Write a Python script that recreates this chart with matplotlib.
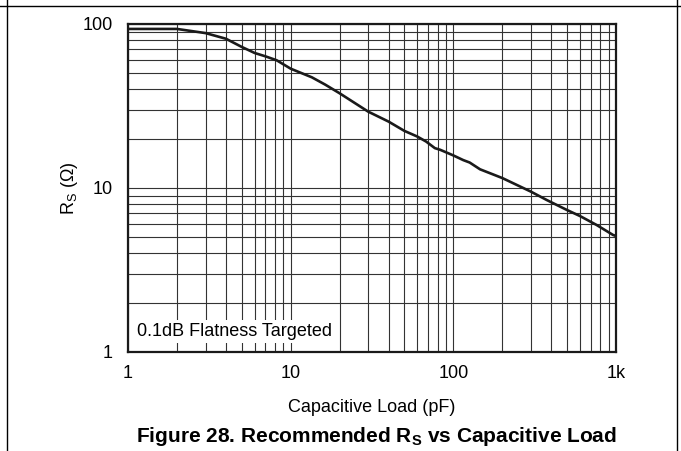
import matplotlib
matplotlib.use("Agg")
import matplotlib.pyplot as plt
from matplotlib.lines import Line2D
from matplotlib.ticker import FixedLocator, FixedFormatter, NullFormatter, LogLocator

plt.rcParams['font.family'] = ['Liberation Sans', 'DejaVu Sans']
plt.rcParams['mathtext.fontset'] = 'custom'
plt.rcParams['mathtext.rm'] = 'Liberation Sans'
plt.rcParams['mathtext.bf'] = 'Liberation Sans:bold'
plt.rcParams['mathtext.it'] = 'Liberation Sans:italic'

cap_pf = [1, 2, 3, 4, 5, 6, 7, 8.2, 10, 13.5, 16.3, 20, 30, 40, 50, 60, 68, 77, 83,
          100, 115, 126, 146, 200, 300, 375, 500, 600, 760, 960, 1000]
rs_ohm = [93.3, 93.3, 88, 81.3, 72.5, 66.6, 63.5, 60.1, 53.4, 47.3, 42.7, 37.8, 29.2,
          25.4, 22.3, 20.6, 19.2, 17.5, 17.1, 15.8, 14.8, 14.3, 13.0, 11.5, 9.5, 8.45,
          7.34, 6.75, 5.95, 5.17, 5.1]
x_ticks = [1, 10, 100, 1000]
x_tick_labels = ["1", "10", "100", "1k"]
y_ticks = [1, 10, 100]
y_tick_labels = ["1", "10", "100"]

fig = plt.figure(figsize=(6.81, 4.51), dpi=100)
ax = fig.add_axes([128/681, 1-352/451, 488/681, 328/451])
ax.set_xscale('log')
ax.set_yscale('log')
ax.set_xlim(1, 1000)
ax.set_ylim(1, 100)

ax.plot(cap_pf, rs_ohm, color='#1a1a1a', lw=1.9, zorder=4, solid_capstyle='round')

ax.xaxis.set_major_locator(FixedLocator(x_ticks))
ax.xaxis.set_major_formatter(FixedFormatter(x_tick_labels))
ax.yaxis.set_major_locator(FixedLocator(y_ticks))
ax.yaxis.set_major_formatter(FixedFormatter(y_tick_labels))
ax.xaxis.set_minor_locator(LogLocator(base=10, subs=range(2, 10)))
ax.yaxis.set_minor_locator(LogLocator(base=10, subs=range(2, 10)))
ax.xaxis.set_minor_formatter(NullFormatter())
ax.yaxis.set_minor_formatter(NullFormatter())

ax.grid(True, which='both', color='#333333', lw=0.8)
ax.set_axisbelow(True)
ax.tick_params(which='both', length=0)
ax.tick_params(axis='x', pad=9.5, labelsize=13)
ax.tick_params(axis='y', pad=11, labelsize=13)
for s in ax.spines.values():
    s.set_linewidth(1.6)
    s.set_color('#1a1a1a')
    s.set_zorder(5)

ax.text(0.018, 0.063, "0.1dB Flatness Targeted", transform=ax.transAxes,
        fontsize=13, ha='left', va='center', zorder=3,
        bbox=dict(facecolor='white', edgecolor='none', pad=2.0))

fig.text(69/681, 1-188/451, "R$_\\mathrm{S}$ (Ω)", rotation=90, ha='center', va='center',
         fontsize=13)
fig.text(372/681, 1-407/451, "Capacitive Load (pF)", ha='center', va='center', fontsize=13)
fig.text(376/681, 1-437/451, "Figure 28. Recommended R$_\\mathbf{S}$ vs Capacitive Load",
         ha='center', va='center', fontsize=15, fontweight='bold')

fig.add_artist(Line2D([0, 1], [1-6/451, 1-6/451], transform=fig.transFigure, color='black', lw=1.0))
fig.add_artist(Line2D([7/681, 7/681], [0, 1], transform=fig.transFigure, color='black', lw=1.0))
fig.add_artist(Line2D([677/681, 677/681], [0, 1], transform=fig.transFigure, color='black', lw=1.0))

fig.savefig("out.png", dpi=100)
